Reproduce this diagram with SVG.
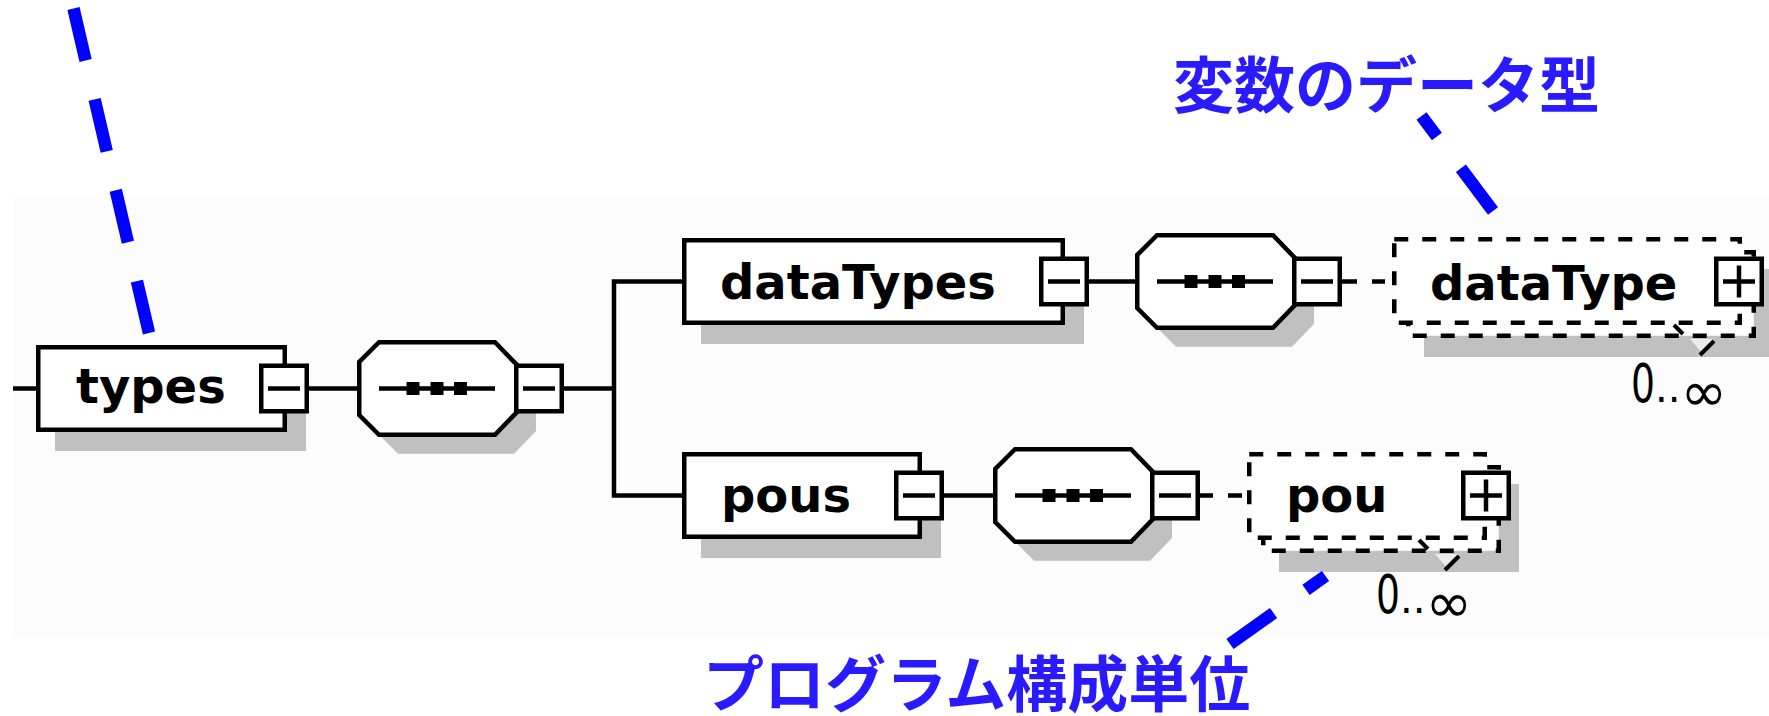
<svg xmlns="http://www.w3.org/2000/svg" xmlns:xlink="http://www.w3.org/1999/xlink" width="1769" height="716" viewBox="0 0 1769 716">
  <style>
    .ln{stroke:#000;stroke-width:4.5;fill:none}
    .box{fill:#fff;stroke:#000;stroke-width:4.5}
    .opt{fill:#fff;stroke:#000;stroke-width:4.5;stroke-dasharray:14 14}
    .shadow{fill:#c0c0c0;stroke:none}
    .name{font-family:"DejaVu Sans",Verdana,sans-serif;font-weight:bold;font-size:48px;fill:#000}
    .occ{font-family:"DejaVu Sans",sans-serif;fill:#000}
    .note{font-family:"Noto Sans CJK JP",sans-serif;font-weight:bold;font-size:61px;fill:#2a1aff}
    .callout{stroke:#0000ff;stroke-width:12.5;fill:none;stroke-dasharray:53.4 39.9}
  </style>
  <defs>
    <!-- collapse / expand buttons, 50x50 outer -->
    <g id="minus">
      <rect class="box" x="2.25" y="2.25" width="45.5" height="45.5"/>
      <line class="ln" x1="9" y1="25" x2="41" y2="25"/>
    </g>
    <g id="plus">
      <rect class="box" x="2.25" y="2.25" width="45.5" height="45.5"/>
      <line class="ln" x1="9" y1="25" x2="41" y2="25"/>
      <line class="ln" x1="25" y1="9" x2="25" y2="41"/>
    </g>
    <!-- sequence compositor octagon, 97 high -->
    <path id="oct" d="M22,2.25 H138 L160,25 V72 L138,94.75 H22 L2.25,75 V22 Z"/>
    <g id="seq">
      <use xlink:href="#oct" x="19" y="19" fill="#c0c0c0"/>
      <use xlink:href="#oct" fill="#fff" stroke="#000" stroke-width="4.5"/>
      <line class="ln" x1="22" y1="48.5" x2="138" y2="48.5"/>
      <rect x="49.5" y="42" width="13" height="13" fill="#000"/>
      <rect x="73.5" y="42" width="13" height="13" fill="#000"/>
      <rect x="97" y="42" width="13" height="13" fill="#000"/>
      <use xlink:href="#minus" x="157" y="23.5"/>
    </g>
    <!-- repeat indicator under an optional element -->
    <g id="occurs">
      <line x1="-82" y1="-13" x2="-73" y2="-4" stroke="#000" stroke-width="4"/>
      <polygon points="-66,1 -42,1 -54,15" fill="#ececec"/>
      <line x1="-42" y1="3" x2="-56" y2="17" stroke="#000" stroke-width="4"/>
    </g>
  </defs>

  <rect x="13" y="197" width="1756" height="441" fill="#fcfcfc"/>

  <g id="connectors">
    <path class="ln" d="M13,388.5 H38"/>
    <path class="ln" d="M309,388.5 H359"/>
    <path class="ln" d="M564,388.5 H614"/>
    <path class="ln" d="M684,281.5 H614 V495.5 H684"/>
    <path class="ln" d="M1089,281.5 H1137"/>
    <path class="ln" d="M944,495.5 H995"/>
    <path class="ln" d="M1342,281.5 H1394" stroke-dasharray="15 15 13 15"/>
    <path class="ln" d="M1200,495.5 H1249" stroke-dasharray="13 15 14 10"/>
  </g>

  <g id="types">
    <rect class="shadow" x="55" y="364" width="251" height="87"/>
    <rect class="box" x="38.25" y="347.25" width="246.5" height="82.5"/>
    <text class="name" x="76" y="403">types</text>
    <use xlink:href="#minus" x="259" y="363.5"/>
  </g>

  <g id="types-sequence">
    <use xlink:href="#seq" x="357" y="340"/>
  </g>

  <g id="dataTypes">
    <rect class="shadow" x="701" y="257" width="383" height="87"/>
    <rect class="box" x="684.25" y="240.25" width="378.5" height="82.5"/>
    <text class="name" x="720" y="299">dataTypes</text>
    <use xlink:href="#minus" x="1039" y="256.5"/>
  </g>

  <g id="dataTypes-sequence">
    <use xlink:href="#seq" x="1135" y="233"/>
  </g>

  <g id="dataType">
    <rect class="shadow" x="1424" y="269" width="350" height="88"/>
    <rect class="opt" x="1408.25" y="252.25" width="345.5" height="83.5"/>
    <rect class="opt" x="1394.25" y="239.25" width="345.5" height="83.5"/>
    <text class="name" x="1430" y="300">dataType</text>
    <use xlink:href="#plus" x="1714" y="256.5"/>
    <use xlink:href="#occurs" x="1756" y="338"/>
    <text class="occ" x="1631" y="402"><tspan font-size="54" textLength="24" lengthAdjust="spacingAndGlyphs">0</tspan><tspan font-size="40">..</tspan><tspan font-size="56" dy="9">∞</tspan></text>
  </g>

  <g id="pous">
    <rect class="shadow" x="701" y="471" width="240" height="87"/>
    <rect class="box" x="684.25" y="454.25" width="235.5" height="82.5"/>
    <text class="name" x="721" y="512">pous</text>
    <use xlink:href="#minus" x="894" y="470.5"/>
  </g>

  <g id="pous-sequence">
    <use xlink:href="#seq" x="993" y="447"/>
  </g>

  <g id="pou">
    <rect class="shadow" x="1279" y="484" width="240" height="88"/>
    <rect class="opt" x="1263.25" y="467.25" width="235.5" height="83.5"/>
    <rect class="opt" x="1249.25" y="454.25" width="235.5" height="83.5"/>
    <text class="name" x="1286" y="512">pou</text>
    <use xlink:href="#plus" x="1461" y="470.5"/>
    <use xlink:href="#occurs" x="1501" y="553"/>
    <text class="occ" x="1376" y="613"><tspan font-size="54" textLength="24" lengthAdjust="spacingAndGlyphs">0</tspan><tspan font-size="40">..</tspan><tspan font-size="56" dy="9">∞</tspan></text>
  </g>

  <g id="callouts">
    <path class="callout" d="M73.5,8.5 L149,333"/>
    <path class="callout" d="M1493,211 L1421.5,116"/>
    <path class="callout" d="M1230,644 L1325.5,576"/>
    <text class="note" x="1173" y="108">変数のデータ型</text>
    <text class="note" x="703" y="707" font-size="60">プログラム構成単位</text>
  </g>
</svg>
